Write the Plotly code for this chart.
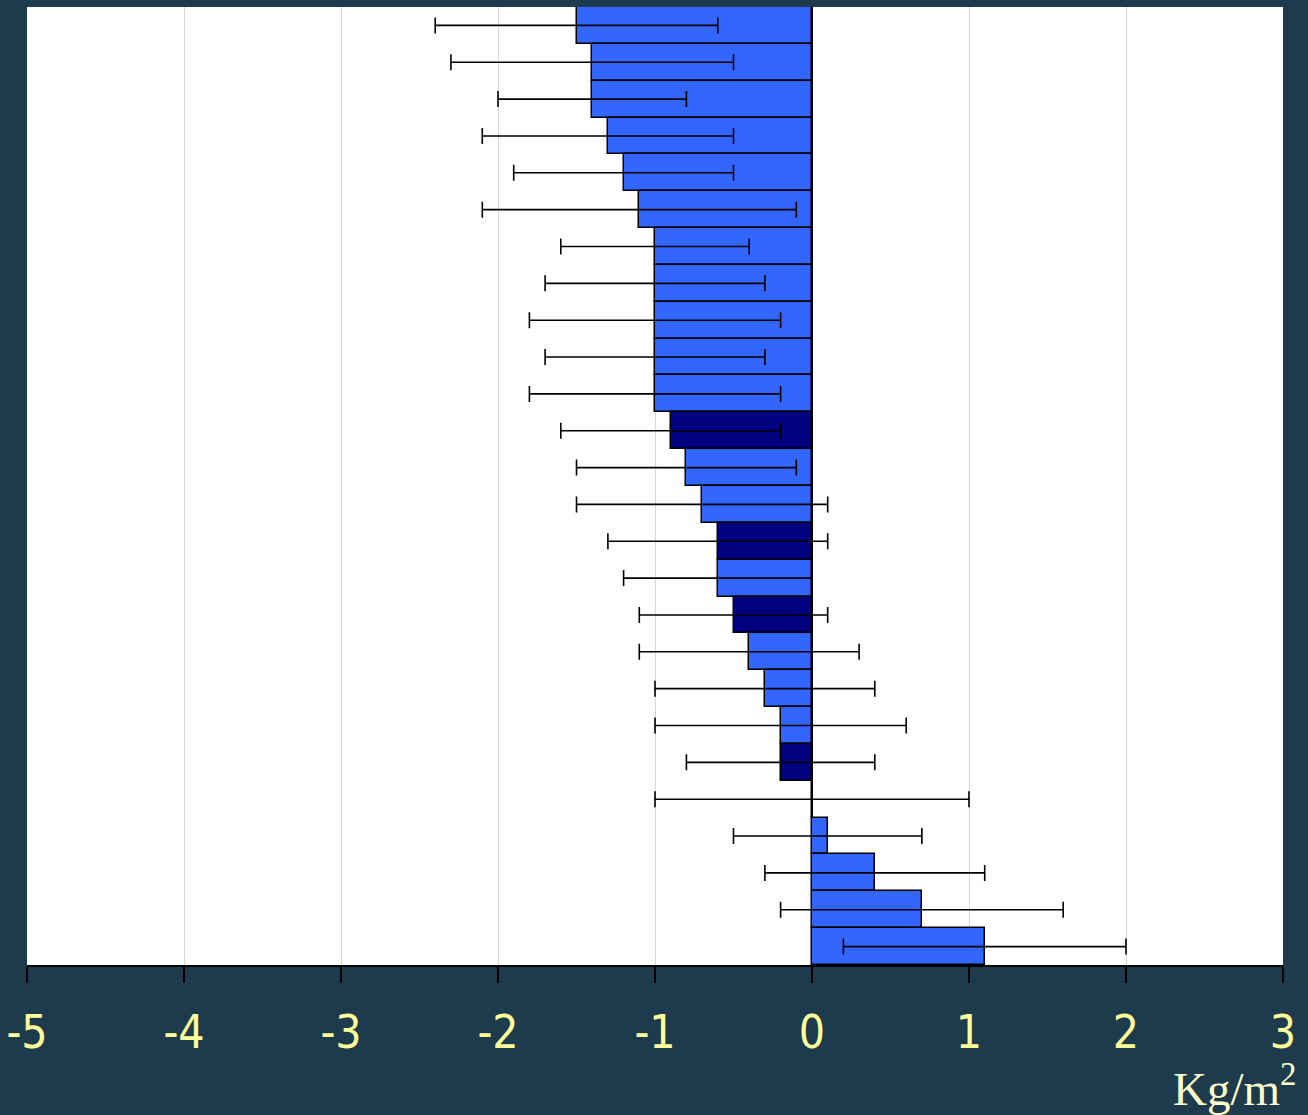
import plotly.graph_objects as go

# Mean change per study (top to bottom) and its uncertainty half-width
rows = list(range(1, 27))
values = [-1.5, -1.4, -1.4, -1.3, -1.2, -1.1, -1.0, -1.0, -1.0, -1.0,
          -1.0, -0.9, -0.8, -0.7, -0.6, -0.6, -0.5, -0.4, -0.3, -0.2,
          -0.2, 0.0, 0.1, 0.4, 0.7, 1.1]
errors = [0.9, 0.9, 0.6, 0.8, 0.7, 1.0, 0.6, 0.7, 0.8, 0.7,
          0.8, 0.7, 0.7, 0.8, 0.7, 0.6, 0.6, 0.7, 0.7, 0.8,
          0.6, 1.0, 0.6, 0.7, 0.9, 0.9]
highlighted = [12, 15, 17, 21]

x_ticks = [-5, -4, -3, -2, -1, 0, 1, 2, 3]

LIGHT = "#3366FF"
DARK = "#000080"
bar_colors = [DARK if r in highlighted else LIGHT for r in rows]

fig = go.Figure(
    go.Bar(
        y=rows,
        x=values,
        orientation="h",
        marker=dict(color=bar_colors, line=dict(color="black", width=1.5)),
        error_x=dict(type="data", array=errors, visible=True,
                     color="black", thickness=1.6, width=8),
        showlegend=False,
    )
)

fig.update_layout(
    width=1308,
    height=1115,
    margin=dict(l=27, r=25, t=7, b=150),
    paper_bgcolor="#1e3b4d",
    plot_bgcolor="white",
    bargap=0,
    xaxis=dict(
        range=[-5, 3],
        tickvals=x_ticks,
        ticktext=[str(v) for v in x_ticks],
        showgrid=True,
        gridcolor="#d6d6d6",
        gridwidth=1,
        zeroline=True,
        zerolinecolor="black",
        zerolinewidth=2,
        showline=True,
        linecolor="black",
        linewidth=2,
        ticks="outside",
        ticklen=16,
        tickwidth=2,
        tickcolor="black",
        ticklabelstandoff=10,
        tickfont=dict(family="Liberation Sans Narrow, Arial Narrow, DejaVu Sans Condensed, Liberation Sans, sans-serif",
                      size=46, color="#FFFF99"),
    ),
    yaxis=dict(
        range=[26.5, 0.5],
        showticklabels=False,
        showgrid=False,
        zeroline=False,
        showline=False,
        ticks="",
    ),
    annotations=[
        dict(
            text="Kg/m<sup>2</sup>",
            xref="paper", yref="paper",
            x=1.012, y=-0.158,
            xanchor="right", yanchor="bottom",
            borderpad=0,
            showarrow=False,
            font=dict(family="Liberation Serif, Times New Roman, serif",
                      size=47, color="#FFFFCC"),
        )
    ],
)

fig.write_html("out.html")
